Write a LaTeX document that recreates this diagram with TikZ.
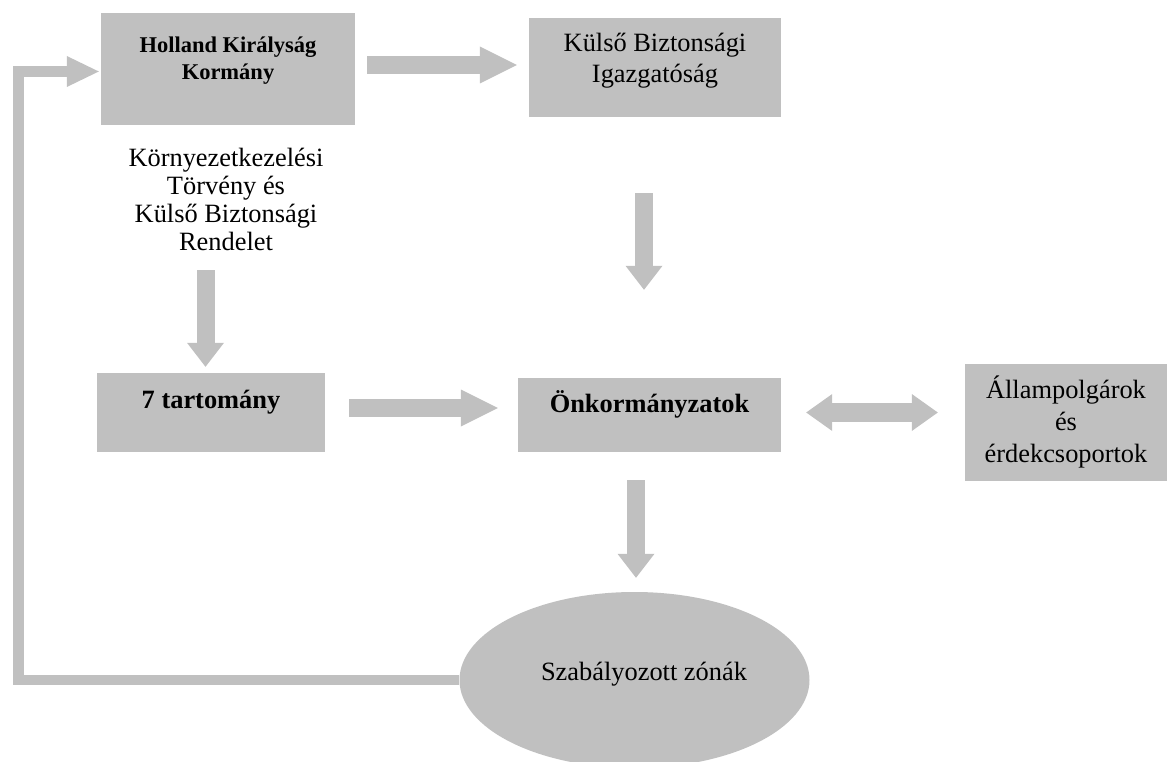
\documentclass[tikz,border=0pt]{standalone}
\usepackage{fontspec}
\setmainfont{Liberation Serif}
\usetikzlibrary{arrows.meta,shapes.geometric}
\definecolor{silver}{RGB}{192,192,192}

\begin{document}
\begin{tikzpicture}[x=1pt,y=-1pt,
  box/.style={fill=silver, draw=none, inner sep=0pt, align=center},
  fat/.style={draw=silver, line width=18pt, -{Triangle[width=37pt,length=37pt,line width=0pt]}},
  fatdown/.style={draw=silver, line width=18pt, -{Triangle[width=37pt,length=24pt,line width=0pt]}},
  dbl/.style={draw=silver, line width=19pt,
    {Triangle[width=37pt,length=26pt,line width=0pt]}-{Triangle[width=37pt,length=26pt,line width=0pt]}},
  feed/.style={draw=silver, line width=10.5pt, line join=miter,
    -{Triangle[width=31pt,length=32pt,line width=0pt]}},
  reg/.style={font=\fontsize{26.4pt}{#1}\selectfont},
  bld/.style={font=\bfseries\fontsize{26.4pt}{30pt}\selectfont},
]
\useasboundingbox (0,0) rectangle (1167,762);
\clip (0,0) rectangle (1167,762);

% boxes (text height/depth place the last baseline inside each box)
\node[box, minimum width=254pt, minimum height=112pt, text height=22pt, text depth=0pt,
      font=\bfseries\fontsize{22.5pt}{27pt}\selectfont] (hol) at (228,69)
      {Holland Királyság\\Kormány};
\node[box, reg=31pt, minimum width=252pt, minimum height=99pt, text height=31pt, text depth=0pt] (kbi) at (655,67.5)
      {Külső Biztonsági\\Igazgatóság};
\node[reg=27.7pt, align=center, inner sep=0pt, text depth=0pt, anchor=base] (law) at (226,250)
      {Környezetkezelési\\Törvény és\\Külső Biztonsági\\Rendelet};
\node[box, bld, minimum width=228pt, minimum height=79pt, text height=0pt, text depth=9pt] (tar) at (211,412.5)
      {7 tartomány};
\node[box, bld, minimum width=263pt, minimum height=74pt, text height=0pt, text depth=6pt] (onk) at (649.5,415)
      {Önkormányzatok};
\node[box, reg=32pt, minimum width=202pt, minimum height=117pt, text height=79pt, text depth=0pt] (all) at (1066,422.5)
      {Állampolgárok\\és\\érdekcsoportok};
\node[ellipse, fill=silver, inner sep=0pt, minimum width=350pt, minimum height=176pt,
      text height=0pt, text depth=0pt, reg=30pt] (zone) at (634.5,680)
      {\hspace*{19pt}Szabályozott zónák};

% guide coordinates for the connectors
\coordinate (xa) at (205.5,0);
\coordinate (xb) at (644,0);
\coordinate (xc) at (636,0);
\coordinate (xf) at (18.5,0);
\coordinate (yt) at (0,65);
\coordinate (ym) at (0,408);
\coordinate (yd) at (0,412.5);
\coordinate (yf) at (0,71.5);

% connectors
\draw[fat, shorten <=12pt, shorten >=12pt] (hol.east |- yt) -- (kbi.west |- yt);
\draw[fatdown, shorten <=76pt, shorten >=88pt] (kbi.south -| xb) -- (onk.north -| xb);
\draw[fatdown, shorten <=20pt, shorten >=6pt] (law.south -| xa) -- (tar.north -| xa);
\draw[fat, shorten <=24pt, shorten >=20pt] (tar.east |- ym) -- (onk.west |- ym);
\draw[dbl, shorten <=25pt, shorten >=27pt] (onk.east |- yd) -- (all.west |- yd);
\draw[fatdown, shorten <=28pt, shorten >=14pt] (onk.south -| xc) -- (zone.north -| xc);
\draw[feed, shorten >=2pt] (zone.west) -- (zone.west -| xf) -- (xf |- yf) -- (hol.west |- yf);
\end{tikzpicture}
\end{document}
